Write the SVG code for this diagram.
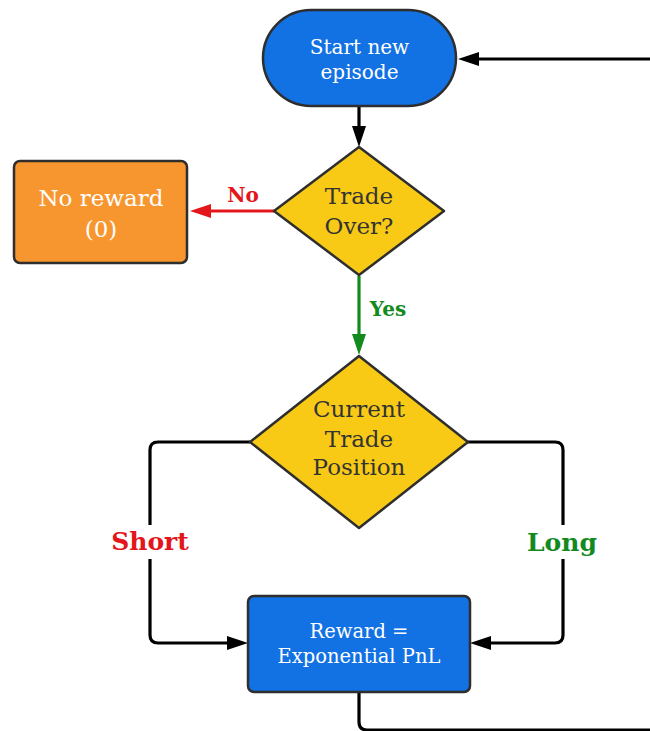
<svg xmlns="http://www.w3.org/2000/svg" width="650" height="731" viewBox="0 0 650 731">
<style>
.node{stroke:#2e2e2e;stroke-width:2.5;stroke-linejoin:round}
.blue{fill:#1271E3}
.yellow{fill:#F8CA16}
.orange{fill:#F7962F}
.t{font-family:"DejaVu Serif","Liberation Serif",serif;text-anchor:middle}
.w{fill:#ffffff}
.d{fill:#333333}
.lbl{font-family:"DejaVu Serif","Liberation Serif",serif;font-weight:bold;text-anchor:middle}
.conn{fill:none;stroke-width:3.2;stroke-linejoin:round}
</style>
<defs>
<marker id="ak" markerUnits="userSpaceOnUse" markerWidth="22" markerHeight="16" refX="0" refY="7" orient="auto" overflow="visible"><path d="M0,0 L21,7 L0,14 Z" fill="#000"/></marker>
<marker id="ar" markerUnits="userSpaceOnUse" markerWidth="22" markerHeight="16" refX="0" refY="7" orient="auto" overflow="visible"><path d="M0,0 L21,7 L0,14 Z" fill="#E3171B"/></marker>
<marker id="ag" markerUnits="userSpaceOnUse" markerWidth="22" markerHeight="16" refX="0" refY="7" orient="auto" overflow="visible"><path d="M0,0 L21,7 L0,14 Z" fill="#138A1E"/></marker>
</defs>
<rect width="650" height="731" fill="#ffffff"/>
<g id="connectors">
<path class="conn" stroke="#000" d="M359,106 L359,126" marker-end="url(#ak)"/>
<path class="conn" stroke="#000" d="M359,692 L359,722 Q359,730 367,730 L652,730"/>
<path class="conn" stroke="#000" d="M652,59 L479,59" marker-end="url(#ak)"/>
<path class="conn" stroke="#E3171B" d="M274,211 L211,211" marker-end="url(#ar)"/>
<path class="conn" stroke="#138A1E" d="M359,276 L359,334" marker-end="url(#ag)"/>
<path class="conn" stroke="#000" d="M250,442 L158,442 Q150,442 150,450 L150,635 Q150,643 158,643 L227,643" marker-end="url(#ak)"/>
<path class="conn" stroke="#000" d="M468,442 L555,442 Q563,442 563,450 L563,635 Q563,643 555,643 L491,643" marker-end="url(#ak)"/>
<text class="lbl" x="243" y="202" font-size="20" fill="#E3171B">No</text>
<text class="lbl" x="388" y="316" font-size="20" fill="#138A1E">Yes</text>
<rect x="103" y="525" width="94" height="34" fill="#ffffff"/>
<text class="lbl" x="150" y="550" font-size="25" fill="#E3171B">Short</text>
<rect x="518" y="525" width="90" height="34" fill="#ffffff"/>
<text class="lbl" x="562" y="551" font-size="25" fill="#138A1E">Long</text>
</g>
<g id="start">
<rect class="node blue" x="263" y="10" width="193" height="96" rx="48" ry="48"/>
<text class="t w" x="359.5" y="54" font-size="20">Start new</text>
<text class="t w" x="359.5" y="79" font-size="20">episode</text>
</g>
<g id="trade-over">
<polygon class="node yellow" points="359,147 444,211 359,275 274,211"/>
<text class="t d" x="359" y="204" font-size="23">Trade</text>
<text class="t d" x="359" y="234" font-size="23">Over?</text>
</g>
<g id="no-reward">
<rect class="node orange" x="14" y="161" width="173" height="102" rx="6" ry="6"/>
<text class="t w" x="101" y="206" font-size="23">No reward</text>
<text class="t w" x="101" y="237" font-size="23">(0)</text>
</g>
<g id="position">
<polygon class="node yellow" points="359,356 468,442 359,528 250,442"/>
<text class="t d" x="359" y="417" font-size="23">Current</text>
<text class="t d" x="359" y="447" font-size="23">Trade</text>
<text class="t d" x="359" y="475" font-size="23">Position</text>
</g>
<g id="reward">
<rect class="node blue" x="248" y="596" width="222" height="96" rx="6" ry="6"/>
<text class="t w" x="359" y="638" font-size="19.5">Reward =</text>
<text class="t w" x="359" y="663" font-size="19.5">Exponential PnL</text>
</g>
</svg>
